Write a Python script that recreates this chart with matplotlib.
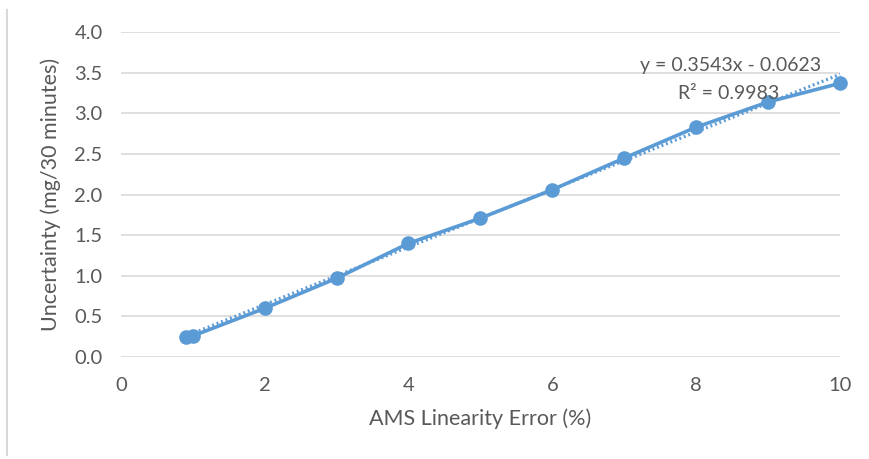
"""AMS linearity error vs. uncertainty, with linear trendline."""

import matplotlib

matplotlib.use("Agg")
import matplotlib.pyplot as plt
import numpy as np
from matplotlib.lines import Line2D

# measured points
linearity_error = [0.9, 1.0, 2, 3, 4, 5, 6, 7, 8, 9, 10]
uncertainty = [0.25, 0.26, 0.60, 0.97, 1.40, 1.71, 2.06, 2.45, 2.83, 3.14, 3.37]

# linear fit reported on the chart
slope = 0.3543
intercept = -0.0623
r_squared = 0.9983

x_ticks = [0, 2, 4, 6, 8, 10]
y_ticks = [0.0, 0.5, 1.0, 1.5, 2.0, 2.5, 3.0, 3.5, 4.0]

BLUE = "#5B9BD5"
TEXT = "#595959"
GRID = "#D9D9D9"

plt.rcParams["font.family"] = ["Lato", "DejaVu Sans"]

fig = plt.figure(figsize=(8.69, 4.59), dpi=100)
ax = fig.add_axes([0.139, 0.222, 0.8276, 0.708])

ax.plot(linearity_error, uncertainty, color=BLUE, lw=2.6, marker="o",
        ms=9.5, zorder=3)

fit_x = np.array([min(linearity_error), max(linearity_error)])
ax.plot(fit_x, slope * fit_x + intercept, color=BLUE, lw=2.3,
        ls=(0, (0.6, 0.9)), zorder=2)

ax.set_xlim(0, 10)
ax.set_ylim(0, 4.0)
ax.set_xticks(x_ticks)
ax.set_yticks(y_ticks)
ax.set_yticklabels([f"{v:.1f}" for v in y_ticks])
ax.tick_params(length=0, labelsize=14.5, labelcolor=TEXT)
ax.tick_params(axis="x", pad=14)
ax.tick_params(axis="y", pad=13)
ax.grid(axis="y", color=GRID, lw=1.2)
ax.set_axisbelow(True)
for spine in ax.spines.values():
    spine.set_visible(False)
for line in ax.get_lines():
    line.set_clip_on(False)

ax.set_xlabel("AMS Linearity Error (%)", fontsize=15.5, color=TEXT, labelpad=11)
ax.set_ylabel("Uncertainty (mg/30 minutes)", fontsize=15.5, color=TEXT, labelpad=10)

sign = "-" if intercept < 0 else "+"
ax.text(8.48, 3.59, f"y = {slope:.4f}x {sign} {abs(intercept):.4f}",
        fontsize=14, color=TEXT, ha="center", va="center")
ax.text(8.45, 3.25, f"R² = {r_squared:.4f}",
        fontsize=14, color=TEXT, ha="center", va="center")

# chart frame edge on the left
fig.add_artist(Line2D([7 / 869, 7 / 869], [1 - 10 / 459, 1 - 455 / 459],
                      color=GRID, lw=1.5))

fig.savefig("out.png", dpi=100)
